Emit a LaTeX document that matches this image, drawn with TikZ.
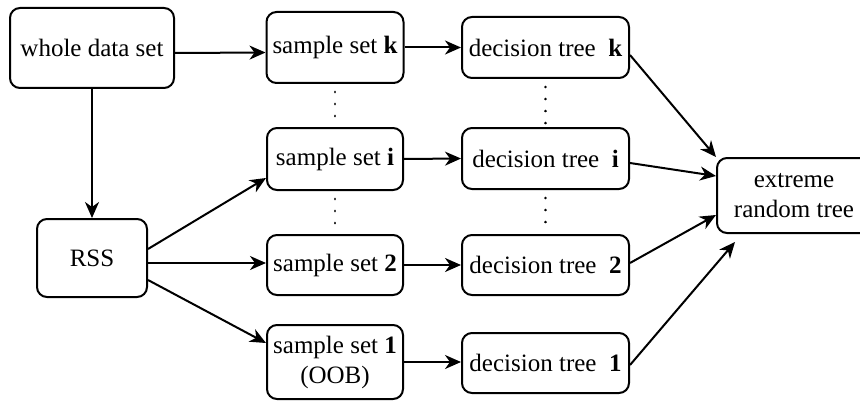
\documentclass[tikz,border=0pt]{standalone}
\usepackage{fontspec}
\setmainfont{Liberation Serif}
\usetikzlibrary{arrows.meta,calc}
\begin{document}
\begin{tikzpicture}[x=0.5pt,y=-0.5pt,
  box/.style={draw,line width=1pt,rounded corners=5pt,inner sep=0pt,align=center,
    font=\fontsize{12.5}{15}\selectfont},
  arr/.style={line width=1pt,-{Stealth[length=8pt,width=7pt,inset=2.5pt]}},
  dotline/.style={line width=1.4pt,dash pattern=on 0.01pt off 6pt,line cap=round}]
\useasboundingbox (0,0) rectangle (860,401);
\node[box,minimum width=82pt,minimum height=40pt] (whole) at (92,48) {whole data set};
\node[box,minimum width=55pt,minimum height=39pt] (rss) at (92,258) {RSS};
\node[box,minimum width=68.5pt,minimum height=35.5pt] (sk) at (335,47.5) {sample set \textbf{k}};
\node[box,minimum width=68pt,minimum height=31pt] (si) at (335,159) {sample set \textbf{i}};
\node[box,minimum width=68pt,minimum height=30pt] (s2) at (335,265) {sample set \textbf{2}};
\node[box,minimum width=68pt,minimum height=37pt] (s1) at (335,362) {sample set \textbf{1}\\(OOB)};
\node[box,minimum width=83.5pt,minimum height=30.5pt] (dk) at (545.5,47.5) {decision tree\ \ \textbf{k}};
\node[box,minimum width=83.5pt,minimum height=30.5pt] (di) at (545.5,158.5) {decision tree\ \ \textbf{i}};
\node[box,minimum width=83.5pt,minimum height=30pt] (d2) at (545.5,265) {decision tree\ \ \textbf{2}};
\node[box,minimum width=83.5pt,minimum height=30pt] (d1) at (545.5,363) {decision tree\ \ \textbf{1}};
\node[box,minimum width=77pt,minimum height=37.5pt] (ext) at (794,195.5) {extreme\\random tree};
\coordinate (e1) at (735,242);
% arrows
\draw[arr] ([yshift=-2.5pt]whole.east) -- ([yshift=-2.5pt]sk.west);
\draw[arr] (whole.south) -- (rss.north);
\draw[arr] ([yshift=4.5pt]rss.east) -- ([yshift=-9.5pt]si.west);
\draw[arr] ([yshift=-2.5pt]rss.east) -- ([yshift=-2.5pt]rss.east -| s2.west);
\draw[arr] ([yshift=-11pt]rss.east) -- ([yshift=9.5pt]s1.west);
\draw[arr] (sk.east) -- (dk.west);
\draw[arr] (si.east) -- (di.west);
\draw[arr] (s2.east) -- (d2.west);
\draw[arr] (s1.east) -- (s1.east -| d1.west);
\draw[arr] ([yshift=-3.75pt]dk.east) -- (ext.north west);
\draw[arr] ([yshift=-2.25pt]di.east) -- ([yshift=9.75pt]ext.west);
\draw[arr] ([yshift=1pt]d2.east) -- ([yshift=-9.75pt]ext.west);
\draw[arr] ([yshift=-1pt]d1.east) -- (e1);
% dots
\draw[dotline] ([yshift=-4pt]sk.south) -- (si.north);
\draw[dotline] ([yshift=-4pt]si.south) -- (s2.north);
\draw[dotline] ([yshift=-4pt]dk.south) -- (di.north);
\draw[dotline] ([yshift=-4pt]di.south) -- (d2.north);
\end{tikzpicture}
\end{document}
